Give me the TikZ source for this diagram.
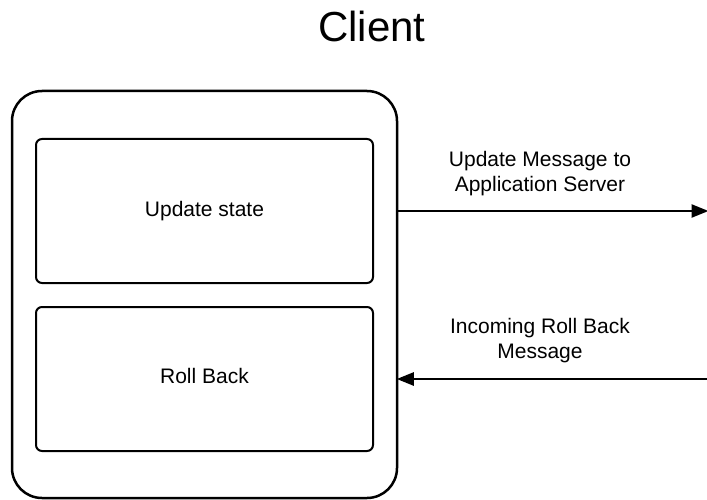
\documentclass[tikz,border=0pt]{standalone}
\usepackage{fontspec}
\setmainfont{Liberation Sans}
\usetikzlibrary{arrows.meta}
\begin{document}
\begin{tikzpicture}[x=1pt,y=-1pt,
  outerbox/.style={draw, line width=2.5pt, rounded corners=30pt, inner sep=0pt,
    minimum width=385pt, minimum height=407pt},
  innerbox/.style={draw, line width=2pt, rounded corners=6pt, inner sep=0pt,
    minimum width=337pt, minimum height=144pt, font=\fontsize{21}{25}\selectfont},
  msg/.style={align=center, font=\fontsize{21}{25}\selectfont},
  flow/.style={line width=2.5pt, shorten >=-1.5pt, -{Triangle[length=17pt,width=13pt]}}]
  \useasboundingbox (0,0) rectangle (707,500);
  % title
  \node[anchor=base, font=\fontsize{42}{50}\selectfont] (title) at (372,42) {Client};
  % client frame and its two parts
  \node[outerbox] (client) at (204.5,294.5) {};
  \node[innerbox] (update) at (204.5,211) {Update state};
  \node[innerbox, text depth=6pt] (rollback) at (204.5,379) {Roll Back};
  % message flows
  \coordinate (server) at (707,211);
  \coordinate (incoming) at (707,379);
  \draw[flow] (client.east |- server) -- (server);
  \draw[flow] (incoming) -- (client.east |- incoming);
  \node[msg] (outlabel) at (540,174) {Update Message to\\Application Server};
  \node[msg] (inlabel) at (540,341) {Incoming Roll Back\\Message};
\end{tikzpicture}
\end{document}
